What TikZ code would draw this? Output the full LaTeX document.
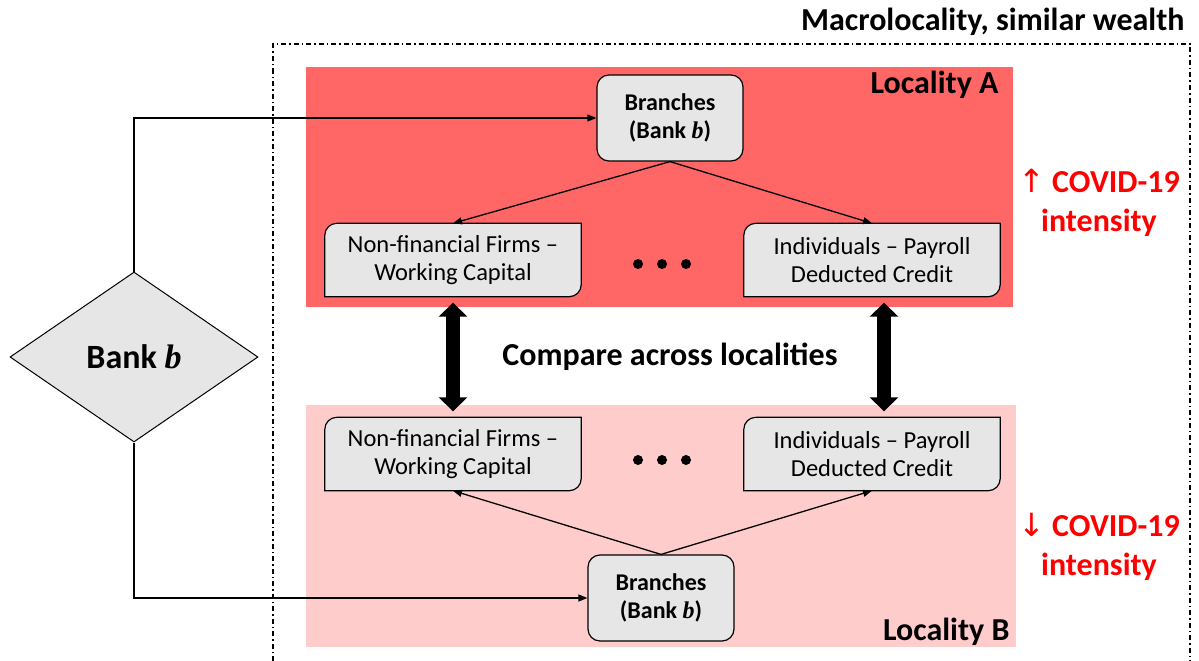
\documentclass[tikz,border=0pt]{standalone}
\usepackage{fontspec}
\setmainfont{Carlito}
\newfontfamily\bankfont{Liberation Serif}
\newfontfamily\arrowfont{DejaVu Sans}
\usetikzlibrary{arrows.meta,shapes.geometric}
\definecolor{locA}{HTML}{FF6666}
\definecolor{locB}{HTML}{FFCCCC}
\definecolor{boxgray}{HTML}{E6E6E6}
\definecolor{covidred}{HTML}{FF0000}
\pgfdeclarelayer{bg}
\pgfdeclarelayer{frames}
\pgfsetlayers{bg,frames,main}
\newcommand{\bankb}{{\bankfont\bfseries\itshape b}}
\tikzset{
  branchbox/.style={draw, line width=1.2pt, fill=boxgray, rounded corners=12pt,
    minimum width=146pt, minimum height=86pt, align=center,
    font=\fontsize{24}{28}\selectfont\bfseries},
  loanbox/.style={minimum width=256pt, minimum height=73pt, align=center,
    font=\fontsize{24.5}{28}\selectfont},
  loanframe/.style={draw, line width=1.2pt, fill=boxgray},
  feed/.style={line width=1.3pt, -{Triangle[length=9pt,width=7pt]}},
  bigarrow/.style={line width=14pt, {Triangle[length=14pt,width=28pt]}-{Triangle[length=14pt,width=28pt]}},
  bigtext/.style={font=\fontsize{32}{36}\selectfont\bfseries},
  covid/.style={text=covidred, align=center, font=\fontsize{32}{39}\selectfont\bfseries},
}
\newcommand{\drawloanframe}[1]{%
  \draw[loanframe] (#1.south west) -- ([yshift=-12pt]#1.north west)
    arc[start angle=180,end angle=90,radius=12pt] -- (#1.north east)
    -- ([yshift=12pt]#1.south east) arc[start angle=0,end angle=-90,radius=12pt] -- cycle;}

\begin{document}
\begin{tikzpicture}[x=1pt,y=-1pt]
  \useasboundingbox (0,0) rectangle (1199,661);
  \begin{pgfonlayer}{bg}
    \fill[locA] (306,67) rectangle (1013,307);
    \fill[locB] (306,405) rectangle (1016,647);
  \end{pgfonlayer}
  \draw[line width=1.5pt, dash pattern=on 5pt off 3pt on 1.5pt off 3pt]
    (273,661) -- (273,44) -- (1190,44) -- (1190,661);
  \node[bigtext, anchor=east] (macro) at (1188,22) {Macrolocality, similar wealth};
  \node[bigtext, anchor=east] (loc a) at (1002,85) {Locality A};
  \node[bigtext, anchor=east] (loc b) at (1013,632) {Locality B};
  \node[covid] (covid a) at (1099,203) {{\arrowfont\mdseries ↑} COVID-19\\intensity};
  \node[covid] (covid b) at (1099,547) {{\arrowfont\mdseries ↓} COVID-19\\intensity};

  \node[branchbox] (br a) at (670,118) {Branches\\(Bank \bankb)};
  \node[branchbox] (br b) at (661,598) {Branches\\(Bank \bankb)};
  \node[loanbox] (nfa) at (453,260) {Non-financial Firms --\\Working Capital};
  \node[loanbox] (inda) at (872,260) {Individuals -- Payroll\\Deducted Credit};
  \node[loanbox] (nfb) at (453,454) {Non-financial Firms --\\Working Capital};
  \node[loanbox] (indb) at (872,454) {Individuals -- Payroll\\Deducted Credit};
  \begin{pgfonlayer}{frames}
    \foreach \n in {nfa,inda,nfb,indb} {\drawloanframe{\n}}
  \end{pgfonlayer}
  \foreach \x in {638,662,686} {
    \fill (\x,264) circle [radius=5pt];
    \fill (\x,460) circle [radius=5pt];
  }

  \node[diamond, draw, line width=1pt, fill=boxgray, minimum width=248pt,
    minimum height=170pt, inner sep=0pt, font=\fontsize{34}{38}\selectfont\bfseries]
    (bank) at (134,357) {Bank \bankb};
  \node[bigtext] (compare) at (670,357) {Compare across localities};

  \draw[feed] (bank.north) |- (br a.west);
  \draw[feed] (bank.south) |- (br b.west);
  \draw[feed] (br a.south) -- (nfa.north);
  \draw[feed] (br a.south) -- (inda.north);
  \draw[feed] (br b.north) -- (nfb.south);
  \draw[feed] (br b.north) -- (indb.south);
  \draw[bigarrow, shorten <=6pt, shorten >=6pt] (nfa.south) -- (nfb.north);
  \draw[bigarrow, shorten <=6pt, shorten >=6pt] ([xshift=12pt]inda.south) -- ([xshift=12pt]indb.north);
\end{tikzpicture}
\end{document}
